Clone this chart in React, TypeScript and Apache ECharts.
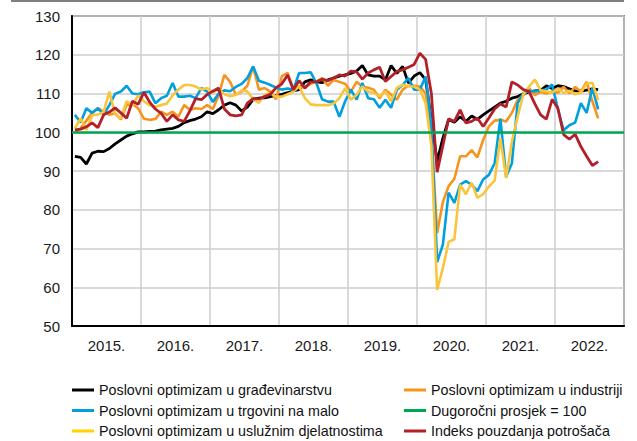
import React, { useEffect, useRef } from "react";
import * as echarts from "echarts";

const YEARS = ["2015.", "2016.", "2017.", "2018.", "2019.", "2020.", "2021.", "2022."];
const MONTHS: string[] = [];
YEARS.forEach((y) => {
  for (let i = 1; i <= 12; i++) MONTHS.push(`${i}/${y}`);
});

const Y_TICKS = { min: 50, max: 130, interval: 10 };
const LONG_TERM_AVG = 100;

const NAME_CONSTRUCTION = "Poslovni optimizam u građevinarstvu";
const NAME_INDUSTRY = "Poslovni optimizam u industriji";
const NAME_RETAIL = "Poslovni optimizam u trgovini na malo";
const NAME_AVG = "Dugoročni prosjek = 100";
const NAME_SERVICES = "Poslovni optimizam u uslužnim djelatnostima";
const NAME_CONSUMER = "Indeks pouzdanja potrošača";

// Jan 2015 – Aug 2022, monthly
const construction = [
  93.8, 93.5, 91.8, 94.6, 95.1, 95.0, 95.8, 97.0, 98.0, 99.0, 99.6, 100.1,
  100.1, 100.2, 100.3, 100.6, 100.8, 101.0, 101.5, 102.5, 103.0, 103.4, 104.0, 105.3,
  104.8, 105.8, 107.0, 107.6, 107.0, 105.5, 106.5, 108.5, 108.8, 108.9, 109.2, 109.5,
  109.8, 110.2, 110.7, 111.0, 113.0, 113.5, 113.0, 112.8, 113.5, 114.0, 114.5, 114.8,
  115.2, 115.8, 117.2, 114.8, 114.5, 114.5, 113.5, 117.2, 115.2, 117.0, 112.7, 114.5,
  115.4, 113.6, 103.0, 92.5, 98.5, 103.3, 102.6, 104.0, 102.8, 104.2, 103.3, 104.5,
  105.5, 106.5, 107.5, 108.0, 108.8, 109.2, 109.9, 110.4, 110.7, 110.8, 112.0, 111.3,
  112.0, 111.8, 111.2, 110.7, 110.6, 110.9, 111.2, 111.0,
];

const industry = [
  100.0, 101.0, 103.0, 105.0, 106.2, 105.3, 104.5, 104.9, 103.3, 107.0, 107.3, 106.2,
  103.5, 103.2, 103.4, 105.3, 104.5, 105.3, 104.0, 107.0, 105.8, 106.2, 106.0, 107.0,
  106.0, 109.5, 114.8, 113.0, 109.7, 110.5, 112.0, 117.0, 111.0, 111.4, 110.5, 108.5,
  114.5, 115.3, 111.0, 111.8, 111.5, 112.5, 113.1, 114.0, 112.0, 113.5, 113.0, 112.5,
  110.5, 113.0, 111.8, 111.5, 111.0, 108.8, 111.0, 109.7, 108.4, 111.0, 112.0, 112.0,
  111.8, 110.0, 100.0, 74.0, 82.0, 86.1, 88.0, 93.8, 93.8, 95.4, 93.5, 98.0,
  101.5, 103.0, 103.2, 102.8, 105.0, 108.3, 109.6, 111.3, 109.6, 110.4, 110.0, 110.5,
  110.2, 111.7, 110.0, 111.7, 110.5, 113.0, 108.0, 103.6,
];

const retail = [
  104.5, 102.5, 106.2, 105.0, 106.2, 104.5, 107.0, 109.9, 110.5, 112.0, 110.0, 109.8,
  110.3, 110.5, 107.5, 108.8, 109.4, 112.7, 109.2, 109.2, 109.4, 108.8, 111.4, 110.5,
  107.8, 110.0, 110.8, 110.6, 111.7, 112.5, 114.0, 117.0, 113.3, 112.8, 112.2, 111.5,
  111.0, 111.3, 111.0, 115.3, 115.3, 115.5, 112.7, 108.5, 107.9, 107.9, 104.0, 108.0,
  111.0, 108.4, 112.7, 108.8, 108.5, 106.3, 108.4, 106.3, 111.0, 112.2, 114.0, 111.0,
  111.0, 114.4, 102.0, 66.5, 71.0, 84.4, 81.8, 86.5, 87.4, 86.5, 84.8, 87.8,
  89.0, 92.0, 103.5, 88.5, 92.0, 107.5, 110.0, 110.7, 110.5, 110.8, 111.0, 112.3,
  106.0, 100.5, 101.8, 102.5, 107.5, 105.0, 111.5, 105.9,
];

const services = [
  101.0, 103.6, 100.6, 104.4, 104.6, 105.2, 110.5, 104.6, 103.6, 108.0, 106.9, 109.5,
  108.0, 107.0, 106.6, 107.0, 107.4, 109.5, 111.0, 112.2, 112.2, 111.8, 111.0, 111.4,
  110.3, 111.0, 109.8, 109.3, 109.6, 110.8, 110.5, 108.5, 107.6, 109.7, 110.1, 109.2,
  109.2, 109.8, 110.5, 111.8, 108.8, 107.2, 107.0, 107.0, 107.0, 107.4, 108.8, 111.4,
  108.4, 109.7, 111.8, 110.5, 110.1, 109.3, 110.6, 108.0, 111.4, 112.3, 111.8, 111.8,
  111.0, 107.5, 96.5, 59.3, 65.0, 71.7, 72.4, 86.5, 84.0, 87.0, 83.1, 84.0,
  86.0, 87.5, 98.5, 88.2, 97.6, 104.0, 109.8, 111.8, 113.6, 110.8, 110.6, 110.2,
  111.3, 110.1, 110.7, 109.8, 110.2, 112.5, 112.8, 108.3,
];

const consumer = [
  100.6, 100.8, 101.4, 102.4, 101.2, 104.5, 105.2, 106.3, 105.0, 103.6, 108.0, 107.2,
  110.3, 107.8, 106.0, 104.9, 102.8, 104.5, 103.2, 102.8, 105.5, 108.7, 108.4, 109.7,
  110.6, 111.4, 106.0, 104.5, 104.2, 104.5, 107.5, 108.7, 108.6, 109.2, 109.8, 111.5,
  112.5, 114.8, 111.0, 113.3, 111.4, 113.0, 113.0, 113.7, 113.3, 114.0, 114.8, 114.5,
  115.8, 115.6, 113.7, 115.3, 116.1, 116.8, 113.1, 114.4, 115.7, 116.1, 116.8, 117.5,
  120.4, 118.8, 110.0, 89.7, 96.5, 103.5, 102.8, 105.8, 102.4, 102.8, 103.7, 101.5,
  103.7, 106.0, 107.3, 106.5, 113.0, 112.2, 111.0, 110.5, 107.3, 104.5, 103.4, 108.5,
  106.2, 99.4, 98.2, 99.5, 96.3, 93.8, 91.4, 92.4,
];

const COLORS = {
  construction: "#000000",
  industry: "#f7941d",
  retail: "#00a0df",
  avg: "#00a650",
  services: "#f8c53c",
  servicesLegend: "#ffd200",
  consumer: "#b3202a",
};

const FONT = "'Liberation Sans', Arial, Helvetica, sans-serif";

export default function App() {
  const ref = useRef<HTMLDivElement>(null);

  useEffect(() => {
    document.body.style.margin = "0";
    if (!ref.current) return;
    const chart = echarts.init(ref.current, undefined, { renderer: "svg" });

    const lineSeries = (name: string, data: number[], color: string, width = 2.6) => ({
      name,
      type: "line",
      xAxisIndex: 1,
      yAxisIndex: 0,
      data,
      showSymbol: false,
      symbol: "none",
      lineStyle: { color, width },
      itemStyle: { color },
      emphasis: { disabled: true },
      silent: true,
    });

    const legendCommon = {
      orient: "vertical",
      top: 383,
      padding: 0,
      itemGap: 6.5,
      itemWidth: 22,
      itemHeight: 3,
      icon: "rect",
      selectedMode: false,
      textStyle: { fontSize: 14.3, color: "#111", fontFamily: FONT, lineHeight: 14 },
    };

    chart.setOption({
      animation: false,
      grid: {
        left: 72,
        right: 13,
        top: 16,
        bottom: 115,
        show: true,
        borderColor: "#333",
        borderWidth: 1.5,
        backgroundColor: "transparent",
      },
      xAxis: [
        {
          type: "category",
          data: YEARS,
          boundaryGap: true,
          axisLine: { show: true, lineStyle: { color: "#000", width: 2 } },
          axisTick: { show: false },
          axisLabel: { fontSize: 15, color: "#1a1a1a", margin: 12, fontFamily: FONT },
          splitLine: { show: true, lineStyle: { color: "#cccccc", width: 1.5 } },
        },
        {
          type: "category",
          data: MONTHS,
          boundaryGap: true,
          show: false,
        },
      ],
      yAxis: [
        {
          type: "value",
          min: Y_TICKS.min,
          max: Y_TICKS.max,
          interval: Y_TICKS.interval,
          axisLine: { show: true, lineStyle: { color: "#000", width: 2 } },
          axisTick: { show: false },
          axisLabel: { fontSize: 15, color: "#1a1a1a", margin: 12, fontFamily: FONT },
          splitLine: { show: true, lineStyle: { color: "#cccccc", width: 1.5 } },
        },
      ],
      legend: [
        {
          ...legendCommon,
          left: 72,
          data: [
            NAME_CONSTRUCTION,
            NAME_RETAIL,
            { name: NAME_SERVICES, itemStyle: { color: COLORS.servicesLegend } },
          ],
        },
        {
          ...legendCommon,
          left: 404,
          data: [NAME_INDUSTRY, NAME_AVG, NAME_CONSUMER],
        },
      ],
      graphic: [
        {
          type: "line",
          shape: { x1: 11, y1: 1, x2: 624, y2: 1 },
          style: { stroke: "#555", lineWidth: 1.5 },
          silent: true,
        },
      ],
      series: [
        lineSeries(NAME_CONSTRUCTION, construction, COLORS.construction, 2.8),
        lineSeries(NAME_INDUSTRY, industry, COLORS.industry),
        lineSeries(NAME_RETAIL, retail, COLORS.retail),
        {
          name: NAME_AVG,
          type: "line",
          xAxisIndex: 1,
          yAxisIndex: 0,
          data: [],
          symbol: "none",
          lineStyle: { color: COLORS.avg, width: 2.6 },
          itemStyle: { color: COLORS.avg },
          silent: true,
          markLine: {
            silent: true,
            symbol: ["none", "none"],
            label: { show: false },
            lineStyle: { color: COLORS.avg, width: 2.6, type: "solid" },
            emphasis: { disabled: true },
            data: [{ yAxis: LONG_TERM_AVG }],
          },
        },
        lineSeries(NAME_SERVICES, services, COLORS.services),
        lineSeries(NAME_CONSUMER, consumer, COLORS.consumer, 2.8),
      ],
    });

    return () => chart.dispose();
  }, []);

  return <div ref={ref} style={{ width: 637, height: 441 }} />;
}
